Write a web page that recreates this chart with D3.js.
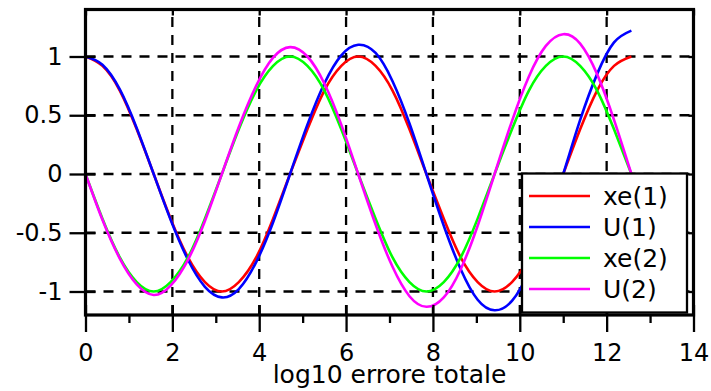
<!DOCTYPE html>
<html>
<head>
<meta charset="utf-8">
<script src="https://cdn.jsdelivr.net/npm/d3@7"></script>
<style>
  body { margin: 0; background: #fff; }
  svg { display: block; font-family: "DejaVu Sans", sans-serif; }
</style>
</head>
<body>
<svg></svg>
<script>
// valori (passo ~pi/8)
var tempi = [0, 0.39, 0.79, 1.18, 1.57, 1.96, 2.36, 2.75, 3.14, 3.53, 3.93, 4.32, 4.71, 5.11, 5.50, 5.89,
  6.28, 6.68, 7.07, 7.46, 7.85, 8.25, 8.64, 9.03, 9.42, 9.82, 10.21, 10.60, 11.00, 11.39, 11.78, 12.17, 12.57];
var xe1 = [1, 0.92, 0.71, 0.38, 0, -0.38, -0.71, -0.92, -1, -0.92, -0.71, -0.38, 0, 0.38, 0.71, 0.92,
  1, 0.92, 0.71, 0.38, 0, -0.38, -0.71, -0.92, -1, -0.92, -0.71, -0.38, 0, 0.38, 0.71, 0.92, 1];
var u1 = [1, 0.93, 0.72, 0.39, 0, -0.39, -0.73, -0.96, -1.05, -0.98, -0.75, -0.41, 0, 0.42, 0.77, 1.01,
  1.10, 1.03, 0.79, 0.43, 0, -0.44, -0.81, -1.07, -1.16, -1.08, -0.83, -0.45, 0, 0.46, 0.85, 1.12, 1.22];
var xe2 = [0, -0.38, -0.71, -0.92, -1, -0.92, -0.71, -0.38, 0, 0.38, 0.71, 0.92, 1, 0.92, 0.71, 0.38,
  0, -0.38, -0.71, -0.92, -1, -0.92, -0.71, -0.38, 0, 0.38, 0.71, 0.92, 1, 0.92, 0.71, 0.38, 0];
var u2 = [0, -0.39, -0.72, -0.94, -1.03, -0.95, -0.73, -0.40, 0, 0.40, 0.75, 0.99, 1.08, 1.00, 0.77, 0.42,
  0, -0.43, -0.79, -1.04, -1.13, -1.05, -0.81, -0.44, 0, 0.45, 0.83, 1.09, 1.19, 1.11, 0.85, 0.46, 0];

var nomi = ['xe(1)', 'U(1)', 'xe(2)', 'U(2)'];
var colori = ['#ff0000', '#0000ff', '#00ff00', '#ff00ff'];
var serie = [xe1, u1, xe2, u2];

var xTicks = [0, 2, 4, 6, 8, 10, 12, 14];
var xMinor = [1, 3, 5, 7, 9, 11, 13];
var yTicks = [-1, -0.5, 0, 0.5, 1];
var titoloX = 'log10 errore totale';

var w = 711, h = 391,
	sx = 85.5, dx = 693.5, alto = 9.5, basso = 315,
	svg = d3.select('svg').attr('width', w).attr('height', h);

var x = d3.scaleLinear().domain([0, 14]).range([sx, dx]);
var y = d3.scaleLinear().domain([-1.2, 1.4]).range([basso, alto]);

// griglia tratteggiata
var griglia = svg.append('g').attr('stroke', '#000').attr('stroke-width', 2.3).attr('stroke-dasharray', '10,8');
griglia.selectAll('.gx').data(xTicks.slice(1, -1)).enter().append('line')
	.attr('x1', function(d){ return x(d) }).attr('x2', function(d){ return x(d) })
	.attr('y1', basso).attr('y2', alto);
griglia.selectAll('.gy').data(yTicks).enter().append('line')
	.attr('y1', function(d){ return y(d) }).attr('y2', function(d){ return y(d) })
	.attr('x1', sx).attr('x2', dx);

// curve
var linea = d3.line()
	.x(function(d, i){ return x(tempi[i]) })
	.y(function(d){ return y(d) })
	.curve(d3.curveNatural);

svg.selectAll('.curva').data(serie).enter().append('path')
	.attr('class', 'curva')
	.attr('d', function(d){ return linea(d) })
	.attr('fill', 'none')
	.attr('stroke', function(d, i){ return colori[i] })
	.attr('stroke-width', 2.6);

// assi
var asseX = svg.append('g').attr('transform', 'translate(0,' + basso + ')')
	.call(d3.axisBottom(x).tickValues(xTicks).tickSizeInner(17).tickSizeOuter(0).tickPadding(12).tickFormat(d3.format('d')));
var asseXm = svg.append('g').attr('transform', 'translate(0,' + basso + ')')
	.call(d3.axisBottom(x).tickValues(xMinor).tickSize(8).tickFormat(''));
var asseY = svg.append('g').attr('transform', 'translate(' + sx + ',0)')
	.call(d3.axisLeft(y).tickValues(yTicks).tickSizeInner(16).tickSizeOuter(0).tickPadding(7).tickFormat(function(d){ return d }));
var asseT = svg.append('g').attr('transform', 'translate(0,' + alto + ')')
	.call(d3.axisBottom(x).tickValues(xTicks).tickSize(6).tickFormat(''));
var asseR = svg.append('g').attr('transform', 'translate(' + dx + ',0)')
	.call(d3.axisLeft(y).tickValues(yTicks).tickSize(5).tickFormat(''));

[asseX, asseXm, asseY, asseT, asseR].forEach(function(a){
	a.select('.domain').remove();
	a.selectAll('line').attr('stroke', '#000').attr('stroke-width', 2.3);
	a.selectAll('text').attr('fill', '#000').attr('font-size', 24).attr('font-family', '"DejaVu Sans", sans-serif');
});
asseY.selectAll('line').attr('x2', 10).attr('x1', -16);
asseX.selectAll('line').attr('y1', -10);

svg.append('rect')
	.attr('x', sx).attr('y', alto).attr('width', dx - sx).attr('height', basso - alto)
	.attr('fill', 'none').attr('stroke', '#000').attr('stroke-width', 3.2);

// legenda
var leg = svg.append('g');
leg.append('rect').attr('x', 522).attr('y', 173.5).attr('width', 165).attr('height', 139)
	.attr('fill', '#fff').attr('stroke', '#000').attr('stroke-width', 2.3);
var voci = leg.selectAll('.voce').data(nomi).enter().append('g')
	.attr('transform', function(d, i){ return 'translate(0,' + (196 + i * 31) + ')' });
voci.append('line').attr('x1', 529).attr('x2', 590)
	.attr('stroke', function(d, i){ return colori[i] }).attr('stroke-width', 2.6);
voci.append('text').attr('x', 603).attr('dy', '0.35em').attr('font-size', 25)
	.text(function(d){ return d });

svg.append('text')
	.attr('x', (sx + dx) / 2).attr('y', 383).attr('text-anchor', 'middle')
	.attr('font-size', 25).text(titoloX);
</script>
</body>
</html>
